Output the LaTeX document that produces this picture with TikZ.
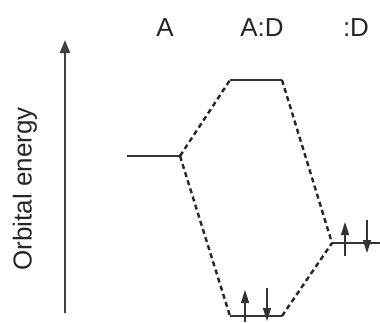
\documentclass[tikz,border=0pt]{standalone}
\usepackage{fontspec}
\setmainfont{Liberation Sans}
\usetikzlibrary{arrows.meta}
\begin{document}
\begin{tikzpicture}[x=1pt,y=-1pt,
  level/.style={line width=2.6pt,draw=black!80},
  corr/.style={line width=2.4pt,dash pattern=on 5pt off 3.5pt,draw=black!85},
  axis/.style={line width=2.2pt,draw=black!75,-{Triangle[length=13pt,width=10pt]}},
  elec/.style={line width=1.6pt,draw=black!80,-{Triangle[length=13pt,width=8pt]}},
  lbl/.style={font=\fontsize{26}{28}\selectfont,inner sep=0pt,text=black!85}]
\useasboundingbox (0,0) rectangle (380,322);
% axis
\coordinate (ax0) at (65,313);
\coordinate (ax1) at (65,40);
\draw[axis] (ax0) -- (ax1);
\node[lbl,rotate=90] (ylab) at (25,189) {Orbital energy};
% column labels
\node[lbl] (la) at (165,28) {A};
\node[lbl] (lad) at (262,28) {A:D};
\node[lbl] (ld) at (356,28) {:D};
% levels
\coordinate (aL) at (127,156); \coordinate (aR) at (180,156);
\coordinate (uL) at (230,80);  \coordinate (uR) at (282,80);
\coordinate (bL) at (230,316); \coordinate (bR) at (282,316);
\coordinate (dL) at (332,243); \coordinate (dR) at (380,243);
\draw[level] (aL) -- (aR);
\draw[level] (uL) -- (uR);
\draw[level] (bL) -- (bR);
\draw[level] (dL) -- (dR);
% correlation lines
\draw[corr] (aR) -- (uL);
\draw[corr] (aR) -- (bL);
\draw[corr] (uR) -- (dL);
\draw[corr] (bR) -- (dL);
% electrons
\coordinate (e1a) at (245,322); \coordinate (e1b) at (245,290);
\coordinate (e2a) at (267,288); \coordinate (e2b) at (267,321);
\coordinate (e3a) at (345,256); \coordinate (e3b) at (345,222);
\coordinate (e4a) at (367,220); \coordinate (e4b) at (367,253);
\draw[elec] (e1a) -- (e1b);
\draw[elec] (e2a) -- (e2b);
\draw[elec] (e3a) -- (e3b);
\draw[elec] (e4a) -- (e4b);
\end{tikzpicture}
\end{document}
